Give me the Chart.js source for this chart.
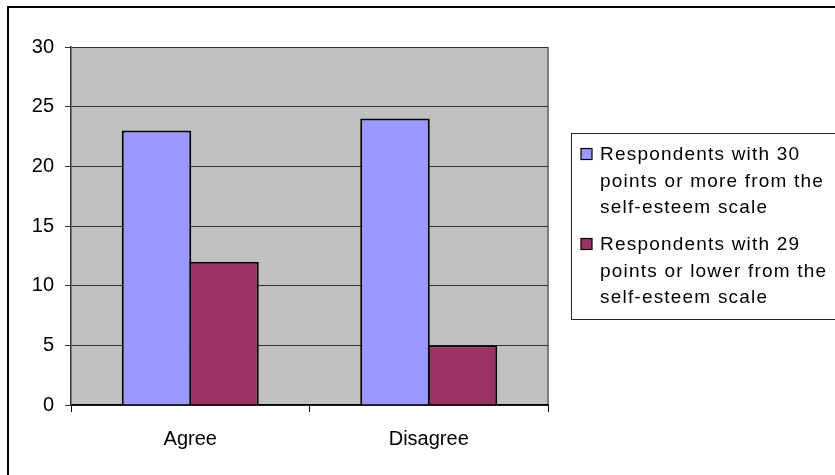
<!DOCTYPE html>
<html>
<head>
<meta charset="utf-8">
<script src="https://cdn.jsdelivr.net/npm/chart.js@4/dist/chart.umd.min.js"></script>
<style>
  html, body { margin: 0; padding: 0; background: #fff; overflow: hidden; }
  #wrap { position: relative; width: 835px; height: 475px; }
  #frame {
    position: absolute; left: 7px; top: 6px; width: 900px; height: 600px;
    border-left: 2px solid #000; border-top: 2px solid #000; box-sizing: border-box;
    pointer-events: none;
  }
  canvas { position: absolute; left: 0; top: 0; }
</style>
</head>
<body>
<div id="wrap">
  <canvas id="c" width="835" height="475"></canvas>
  <div id="frame"></div>
</div>
<script>
// Survey answers split by self-esteem score group
const categories = ['Agree', 'Disagree'];
const highScoreValues = [23, 24];
const lowScoreValues = [12, 5];
const highScoreLegend = ['Respondents with 30', 'points or more from the', 'self-esteem scale'];
const lowScoreLegend = ['Respondents with 29', 'points or lower from the', 'self-esteem scale'];
const yTicks = [0, 5, 10, 15, 20, 25, 30];

const FONT = '"Liberation Sans", Arial, sans-serif';

// Gray plot background with a darker edge on the right
const plotBackground = {
  id: 'plotBackground',
  beforeDraw(chart) {
    const { ctx, chartArea: a } = chart;
    ctx.save();
    ctx.fillStyle = '#C0C0C0';
    ctx.fillRect(a.left, a.top, a.right - a.left, a.bottom - a.top);
    ctx.strokeStyle = '#808080';
    ctx.lineWidth = 2;
    ctx.beginPath();
    ctx.moveTo(a.right, a.top);
    ctx.lineTo(a.right, a.bottom);
    ctx.stroke();
    ctx.restore();
  }
};

// Boxed legend with wrapped series names
const boxedLegend = {
  id: 'boxedLegend',
  afterDraw(chart) {
    const { ctx } = chart;
    const box = { x: 571.5, y: 133.5, w: 300, h: 186 };
    ctx.save();
    ctx.strokeStyle = '#222';
    ctx.lineWidth = 1;
    ctx.strokeRect(box.x, box.y, box.w, box.h);
    ctx.font = '19px ' + FONT;
    ctx.fillStyle = '#000';
    ctx.textBaseline = 'middle';
    if ('letterSpacing' in ctx) ctx.letterSpacing = '1.2px';
    const lineH = 26.5;
    let y = 154;
    chart.data.datasets.forEach((ds) => {
      ctx.fillStyle = ds.backgroundColor;
      ctx.fillRect(581, y - 5.5, 11, 11);
      ctx.strokeStyle = '#000';
      ctx.lineWidth = 1.2;
      ctx.strokeRect(581, y - 5.5, 11, 11);
      ctx.fillStyle = '#000';
      ds.legendLines.forEach((line, i) => {
        ctx.fillText(line, 600, y + 1 + i * lineH);
      });
      y += ds.legendLines.length * lineH + 10.5;
    });
    ctx.restore();
  }
};

new Chart(document.getElementById('c'), {
  type: 'bar',
  data: {
    labels: categories,
    datasets: [
      {
        label: highScoreLegend.join(' '),
        legendLines: highScoreLegend,
        data: highScoreValues,
        backgroundColor: '#9999FF',
        borderColor: '#000',
        borderWidth: 2
      },
      {
        label: lowScoreLegend.join(' '),
        legendLines: lowScoreLegend,
        data: lowScoreValues,
        backgroundColor: '#993366',
        borderColor: '#000',
        borderWidth: 2
      }
    ]
  },
  options: {
    responsive: false,
    animation: false,
    devicePixelRatio: 1,
    layout: { padding: { top: 47, right: 287, bottom: 0, left: 0 } },
    datasets: { bar: { categoryPercentage: 0.566, barPercentage: 1.03 } },
    plugins: { legend: { display: false }, tooltip: { enabled: false } },
    scales: {
      x: {
        offset: true,
        grid: { offset: true, drawOnChartArea: false, drawTicks: true, tickLength: 7, color: '#000' },
        border: { display: true, color: '#000', width: 1.5 },
        ticks: { color: '#000', font: { family: FONT, size: 20 }, padding: 15 },
        afterFit(s) { s.height = 70; }
      },
      y: {
        min: 0,
        max: 30,
        afterBuildTicks(s) { s.ticks = yTicks.map(v => ({ value: v })); },
        grid: { color: '#333', lineWidth: 1, tickLength: 6, drawTicks: true },
        border: { display: true, color: '#333', width: 1.5 },
        ticks: { color: '#000', font: { family: FONT, size: 20 }, padding: 11 },
        afterFit(s) { s.width = 71; }
      }
    }
  },
  plugins: [plotBackground, boxedLegend]
});
</script>
</body>
</html>
